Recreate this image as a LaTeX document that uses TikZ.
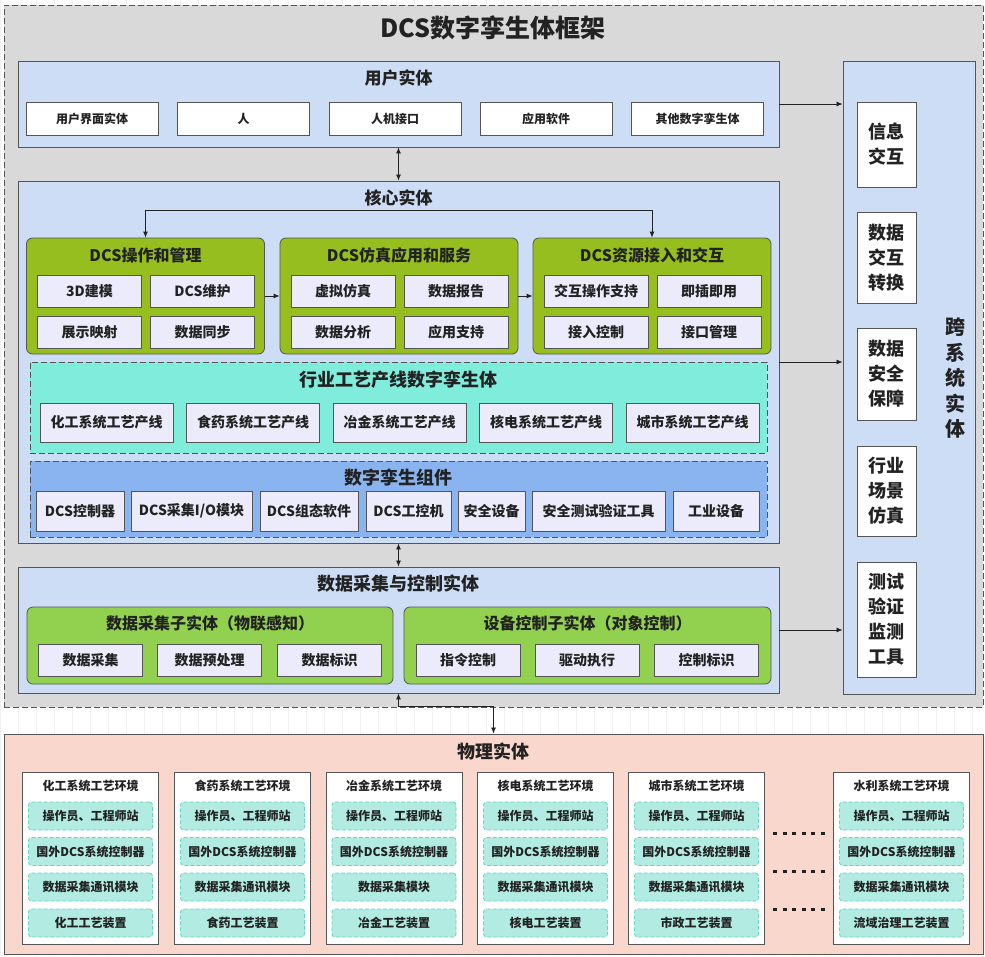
\documentclass[tikz,border=0pt]{standalone}
\usepackage{fontspec}
\setmainfont{Noto Sans CJK SC}
\usetikzlibrary{arrows.meta}

\definecolor{framegray}{HTML}{D9D9D9}
\definecolor{entblue}{HTML}{CCDDF5}
\definecolor{olive}{RGB}{150,190,30}
\definecolor{leaf}{HTML}{92D050}
\definecolor{lav}{HTML}{EBEBFB}
\definecolor{aqua}{HTML}{80ECDC}
\definecolor{corn}{HTML}{8AB4F0}
\definecolor{salmon}{HTML}{FAD7CD}
\definecolor{mint}{HTML}{B2EBE1}
\definecolor{mintline}{HTML}{5FD7C3}
\definecolor{edge}{HTML}{555555}
\definecolor{ink}{HTML}{222222}

\tikzset{
  entity/.style={draw=edge, fill=entblue, line width=0.9pt, inner sep=0pt},
  head/.style={text=ink, font=\bfseries\fontsize{17}{20}\selectfont},
  cell/.style={draw=edge, fill=white, line width=0.8pt, inner sep=0pt, text=ink,
    minimum width=132, minimum height=33, font=\bfseries\fontsize{12}{14}\selectfont},
  group/.style={draw=edge, fill=olive, line width=0.8pt, rounded corners=6pt, inner sep=0pt},
  grouphead/.style={text=ink, font=\bfseries\fontsize{16}{19}\selectfont},
  sub/.style={draw=edge, fill=lav, line width=0.8pt, inner sep=0pt, text=ink,
    font=\bfseries\fontsize{14}{16}\selectfont},
  band/.style={draw=edge, line width=0.9pt, dash pattern=on 6pt off 3pt, inner sep=0pt},
  side/.style={draw=edge, fill=white, line width=0.8pt, inner sep=0pt, minimum width=59,
    align=center, text=ink, font=\bfseries\fontsize{18}{25}\selectfont},
  envbox/.style={draw=edge, fill=white, line width=0.8pt, inner sep=0pt,
    minimum width=136, minimum height=172},
  envhead/.style={text=ink, font=\bfseries\fontsize{12}{14}\selectfont},
  unit/.style={draw=mintline, fill=mint, line width=0.8pt, dash pattern=on 4pt off 2pt,
    rounded corners=3pt, inner sep=0pt, minimum width=124, minimum height=28, text=ink,
    font=\bfseries\fontsize{12}{14}\selectfont},
  link/.style={draw=ink, line width=0.8pt, -{Latex[length=6pt,width=5pt]}},
  links/.style={draw=ink, line width=0.8pt, {Latex[length=6pt,width=5pt]}-{Latex[length=6pt,width=5pt]}}
}

\begin{document}
\begin{tikzpicture}[x=1pt, y=-1pt]
  \useasboundingbox (0,0) rectangle (985,956);
  \draw[gray!12, step=18] (0,0) grid (985,956);

  % DCS frame
  \node[draw=edge, fill=framegray, line width=0.9pt, dash pattern=on 6pt off 3pt, inner sep=0pt,
    minimum width=979, minimum height=702] (frame) at (493.5,356) {};
  \node[text=ink, font=\bfseries\fontsize{25}{30}\selectfont] (title) at (493,28) {DCS数字孪生体框架};

  % user entity
  \node[entity, minimum width=761, minimum height=86] (user) at (398.5,104) {};
  \node[head] (usertitle) at (398.5,78) {用户实体};
  \foreach \cx/\txt [count=\i] in {92/用户界面实体, 243.5/人, 395/人机接口, 546/应用软件, 697.5/其他数字孪生体}
    \node[cell] (u\i) at (\cx,118.5) {\txt};

  % core entity
  \node[entity, minimum width=761, minimum height=362] (core) at (398.5,362) {};
  \node[head] (coretitle) at (398.5,198) {核心实体};
  \foreach \name/\cx/\ttl/\a/\b/\c/\d in {
      ops/145.5/DCS操作和管理/3D建模/DCS维护/展示映射/数据同步,
      sim/399/DCS仿真应用和服务/虚拟仿真/数据报告/数据分析/应用支持,
      res/652/DCS资源接入和交互/交互操作支持/即插即用/接入控制/接口管理} {
    \node[group, minimum width=238, minimum height=116] (\name) at (\cx,296) {};
    \node[grouphead] (\name-t) at (\cx,255) {\ttl};
    \node[sub, minimum width=104, minimum height=32] (\name-a) at (\cx-56,291) {\a};
    \node[sub, minimum width=104, minimum height=32] (\name-b) at (\cx+57,291) {\b};
    \node[sub, minimum width=104, minimum height=32] (\name-c) at (\cx-56,332.5) {\c};
    \node[sub, minimum width=104, minimum height=32] (\name-d) at (\cx+57,332.5) {\d};
  }
  \draw[links] (ops.north) -- ++(0,-27) -| (res.north);
  \draw[link] (ops.east) -- (sim.west);
  \draw[link] (sim.east) -- (res.west);

  \node[band, fill=aqua, minimum width=737, minimum height=91] (line) at (398.5,407.5) {};
  \node[head, font=\bfseries\fontsize{18}{20}\selectfont] (linetitle) at (398.5,380) {行业工艺产线数字孪生体};
  \foreach \cx/\txt [count=\i] in {106.5/化工系统工艺产线, 253/食药系统工艺产线, 399.5/冶金系统工艺产线,
      546/核电系统工艺产线, 692.5/城市系统工艺产线}
    \node[sub, minimum width=133, minimum height=39] (l\i) at (\cx,422.5) {\txt};

  \node[band, fill=corn, minimum width=737, minimum height=76] (part) at (398.5,499) {};
  \node[head, font=\bfseries\fontsize{18}{20}\selectfont] (parttitle) at (398.5,478) {数字孪生组件};
  \foreach \cx/\w/\txt [count=\i] in {80/88/DCS控制器, 191.5/121/{DCS采集I/O模块}, 309/98/DCS组态软件,
      408.5/85/DCS工控机, 491.5/67/安全设备, 598.5/133/安全测试验证工具, 716/86/工业设备}
    \node[sub, minimum width=\w, minimum height=40] (p\i) at (\cx,511) {\txt};

  % data acquisition and control
  \node[entity, minimum width=761, minimum height=126] (data) at (398.5,630) {};
  \node[head, font=\bfseries\fontsize{18}{20}\selectfont] (datatitle) at (398.5,584) {数据采集与控制实体};
  \node[group, fill=leaf, minimum width=366, minimum height=77] (acq) at (210,645.5) {};
  \node[grouphead] (acq-t) at (210,623) {数据采集子实体（物联感知）};
  \node[group, fill=leaf, minimum width=367, minimum height=77] (ctl) at (587.5,645.5) {};
  \node[grouphead] (ctl-t) at (587.5,623) {设备控制子实体（对象控制）};
  \foreach \cx/\txt [count=\i] in {90.5/数据采集, 209.5/数据预处理, 329.5/数据标识,
      468/指令控制, 587/驱动执行, 706.5/控制标识}
    \node[sub, minimum width=104, minimum height=32] (d\i) at (\cx,660) {\txt};

  % cross-system entity
  \node[entity, minimum width=132, minimum height=633] (cross) at (909,377.5) {};
  \node[text=ink, align=center, font=\bfseries\fontsize{20}{25.5}\selectfont] (crosstitle) at (955,378)
    {跨\\系\\统\\实\\体};
  \foreach \cy/\h/\txt [count=\i] in {144.5/85/{信息\\交互}, 257.5/91/{数据\\交互\\转换},
      374/92/{数据\\安全\\保障}, 491/90/{行业\\场景\\仿真}, 619.5/115/{测试\\验证\\监测\\工具}}
    \node[side, minimum height=\h] (c\i) at (886.5,\cy) {\txt};

  \draw[links] (user.south) -- (core.north);
  \draw[links] (core.south) -- (data.north);
  \draw[link] (user.east) -- (user.east -| cross.west);
  \draw[link] (core.east) -- (core.east -| cross.west);
  \draw[link] (data.east) -- (data.east -| cross.west);

  % physical entity
  \node[draw=edge, fill=salmon, line width=0.9pt, inner sep=0pt,
    minimum width=979, minimum height=220] (phys) at (493.5,844) {};
  \node[head, font=\bfseries\fontsize{18}{20}\selectfont] (phystitle) at (493.5,752) {物理实体};
  \draw[links] (data.south) -- ++(0,13) -| (phys.north);

  \foreach \cx/\env/\mod/\dev [count=\i] in {90.5/化工/数据采集通讯模块/化工工艺装置,
      242.5/食药/数据采集通讯模块/食药工艺装置, 394/冶金/数据采集模块/冶金工艺装置,
      545.5/核电/数据采集通讯模块/核电工艺装置, 696.5/城市/数据采集通讯模块/市政工艺装置,
      901.5/水利/数据采集通讯模块/流域治理工艺装置} {
    \node[envbox] (env\i) at (\cx,858) {};
    \node[envhead] (env\i-t) at (\cx,786) {\env 系统工艺环境};
    \node[unit] (env\i-a) at (\cx,816) {操作员、工程师站};
    \node[unit] (env\i-b) at (\cx,851.5) {国外DCS系统控制器};
    \node[unit] (env\i-c) at (\cx,887) {\mod};
    \node[unit] (env\i-d) at (\cx,923) {\dev};
  }
  \foreach \y in {833,871,909}
    \draw[ink, line width=3pt, dash pattern=on 4pt off 5.5pt] (773,\y) -- (828,\y);
\end{tikzpicture}
\end{document}
